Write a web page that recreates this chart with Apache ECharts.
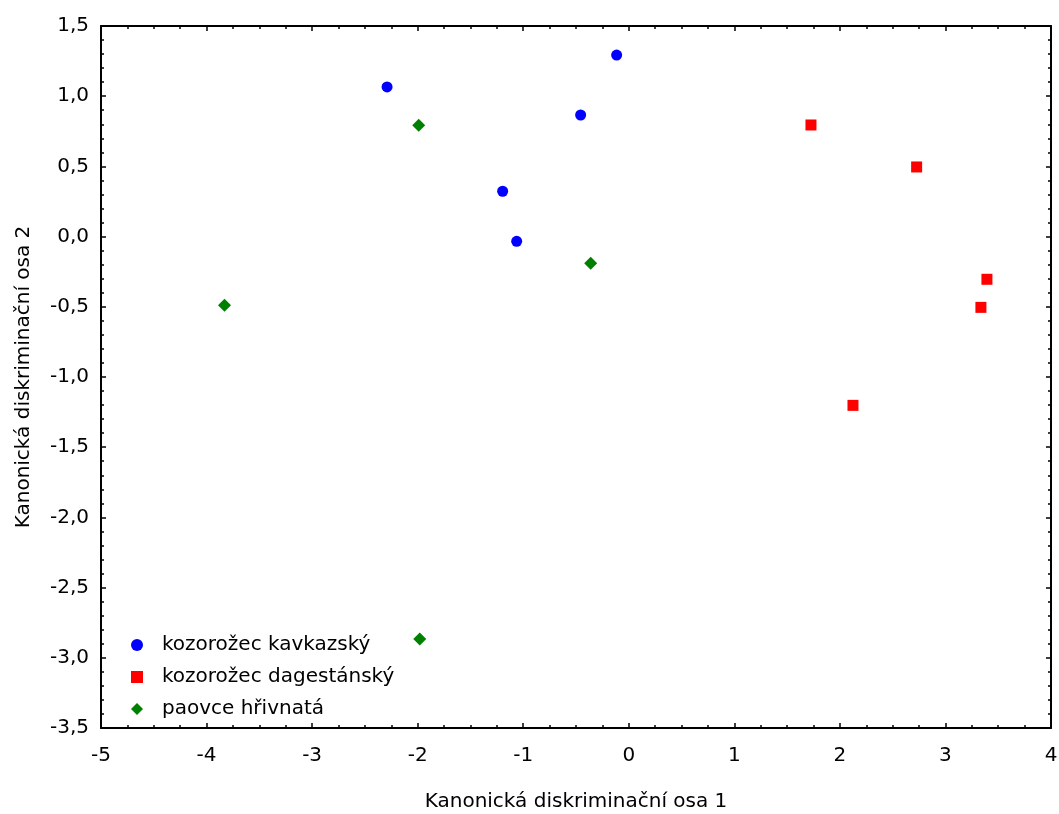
<!DOCTYPE html>
<html>
<head>
<meta charset="utf-8">
<script src="https://cdn.jsdelivr.net/npm/echarts@6/dist/echarts.min.js"></script>
<style>
  html, body { margin: 0; padding: 0; background: #fff; }
  #chart { width: 1059px; height: 814px; }
</style>
</head>
<body>
<div id="chart"></div>
<script>
// Canonical discriminant scores per group: [axis 1, axis 2]
const seriesNames = ['kozorožec kavkazský', 'kozorožec dagestánský', 'paovce hřivnatá'];
const kavkazsky = [[-2.29, 1.066], [-0.115, 1.293], [-0.456, 0.866], [-1.195, 0.323], [-1.062, -0.034]];
const dagestansky = [[1.726, 0.795], [2.727, 0.496], [3.393, -0.304], [3.336, -0.504], [2.124, -1.202]];
const hrivnata = [[-1.99, 0.793], [-0.361, -0.19], [-3.83, -0.489], [-1.98, -2.866]];
const xTitle = 'Kanonická diskriminační osa 1';
const yTitle = 'Kanonická diskriminační osa 2';

const FONT = '"DejaVu Sans", sans-serif';
const lineStyle = { color: '#000', width: 2 };
const tickStyle = { color: '#000', width: 1.5 };

function xAxis(pos, labels) {
  return {
    type: 'value', position: pos, min: -5, max: 4, interval: 1,
    axisLine: { show: true, onZero: false, lineStyle },
    axisTick: { show: true, inside: true, length: 5, lineStyle: tickStyle },
    minorTick: { show: true, splitNumber: 4, length: 3, lineStyle: tickStyle },
    splitLine: { show: false },
    axisLabel: { show: labels, color: '#000', fontFamily: FONT, fontSize: 20, margin: 18,
      formatter: v => String(v) },
    name: labels ? xTitle : '', nameLocation: 'middle', nameGap: 64,
    nameTextStyle: { color: '#000', fontFamily: FONT, fontSize: 20 }
  };
}
function yAxis(pos, labels) {
  return {
    type: 'value', position: pos, min: -3.5, max: 1.5, interval: 0.5,
    axisLine: { show: true, onZero: false, lineStyle },
    axisTick: { show: true, inside: true, length: 5, lineStyle: tickStyle },
    minorTick: { show: true, splitNumber: 5, length: 3, lineStyle: tickStyle },
    splitLine: { show: false },
    axisLabel: { show: labels, color: '#000', fontFamily: FONT, fontSize: 20, margin: 12,
      formatter: v => v.toFixed(1).replace('.', ',') },
    name: labels ? yTitle : '', nameLocation: 'middle', nameGap: 67, nameRotate: 90,
    nameTextStyle: { color: '#000', fontFamily: FONT, fontSize: 20 }
  };
}

const chart = echarts.init(document.getElementById('chart'), null, { renderer: 'canvas' });
chart.setOption({
  animation: false,
  backgroundColor: '#fff',
  grid: { left: 101, right: 8, top: 26, bottom: 86, containLabel: false, outerBoundsMode: 'none' },
  xAxis: [xAxis('bottom', true), xAxis('top', false)],
  yAxis: [yAxis('left', true), yAxis('right', false)],
  legend: {
    orient: 'vertical', left: 131, top: 635, itemGap: 12, padding: 0,
    itemWidth: 12, itemHeight: 12,
    textStyle: { color: '#000', fontFamily: FONT, fontSize: 20, padding: [0, 0, 0, 14] },
    data: seriesNames
  },
  series: [
    { name: seriesNames[0], type: 'scatter', data: kavkazsky, symbol: 'circle', symbolSize: 11,
      itemStyle: { color: '#0000ff', opacity: 1 } },
    { name: seriesNames[1], type: 'scatter', data: dagestansky, symbol: 'rect', symbolSize: 11,
      itemStyle: { color: '#ff0000', opacity: 1 } },
    { name: seriesNames[2], type: 'scatter', data: hrivnata, symbol: 'diamond', symbolSize: 13,
      itemStyle: { color: '#008000', opacity: 1 } }
  ]
});
</script>
</body>
</html>
